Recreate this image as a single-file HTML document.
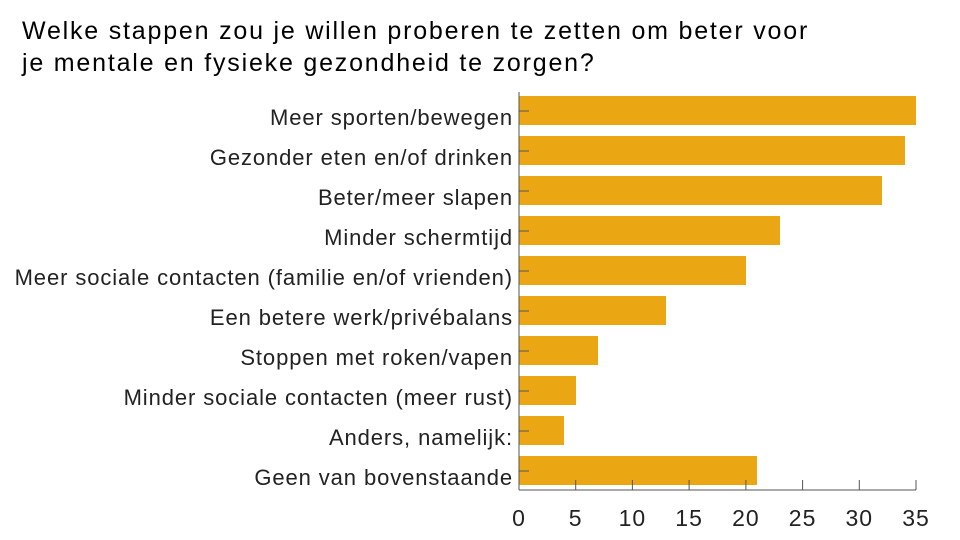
<!DOCTYPE html>
<html><head><meta charset="utf-8"><style>
body{margin:0;background:#fff;}
svg{display:block;font-family:"Liberation Sans",sans-serif;}
</style></head><body>
<svg width="960" height="540" viewBox="0 0 960 540">
<g font-size="25" fill="#000" letter-spacing="1.8">
<text x="22" y="39">Welke stappen zou je willen proberen te zetten om beter voor</text>
<text x="22" y="71">je mentale en fysieke gezondheid te zorgen?</text>
</g>
<g fill="#eba613">
<rect x="519" y="96" width="397" height="29"/>
<rect x="519" y="136" width="386" height="29"/>
<rect x="519" y="176" width="363" height="29"/>
<rect x="519" y="216" width="261" height="29"/>
<rect x="519" y="256" width="227" height="29"/>
<rect x="519" y="296" width="147" height="29"/>
<rect x="519" y="336" width="79" height="29"/>
<rect x="519" y="376" width="57" height="29"/>
<rect x="519" y="416" width="45" height="29"/>
<rect x="519" y="456" width="238" height="29"/>
</g>
<g stroke="#555" stroke-width="1">
<line x1="519" y1="92" x2="519" y2="490"/>
<line x1="519" y1="490" x2="916" y2="490"/>
<line x1="519" y1="111" x2="529" y2="111"/><line x1="519" y1="151" x2="529" y2="151"/>
<line x1="519" y1="191" x2="529" y2="191"/><line x1="519" y1="231" x2="529" y2="231"/>
<line x1="519" y1="271" x2="529" y2="271"/><line x1="519" y1="311" x2="529" y2="311"/>
<line x1="519" y1="351" x2="529" y2="351"/><line x1="519" y1="391" x2="529" y2="391"/>
<line x1="519" y1="431" x2="529" y2="431"/><line x1="519" y1="471" x2="529" y2="471"/>
<line x1="575.7" y1="480" x2="575.7" y2="490"/><line x1="632.4" y1="480" x2="632.4" y2="490"/>
<line x1="689.1" y1="480" x2="689.1" y2="490"/><line x1="745.9" y1="480" x2="745.9" y2="490"/>
<line x1="802.6" y1="480" x2="802.6" y2="490"/><line x1="859.3" y1="480" x2="859.3" y2="490"/>
<line x1="916" y1="480" x2="916" y2="490"/>
</g>
<g font-size="22" fill="#222" text-anchor="end" letter-spacing="0.9">
<text x="513" y="125">Meer sporten/bewegen</text>
<text x="513" y="165">Gezonder eten en/of drinken</text>
<text x="513" y="205">Beter/meer slapen</text>
<text x="513" y="245">Minder schermtijd</text>
<text x="513" y="285">Meer sociale contacten (familie en/of vrienden)</text>
<text x="513" y="325">Een betere werk/privébalans</text>
<text x="513" y="365">Stoppen met roken/vapen</text>
<text x="513" y="405">Minder sociale contacten (meer rust)</text>
<text x="513" y="445">Anders, namelijk:</text>
<text x="513" y="485">Geen van bovenstaande</text>
</g>
<g font-size="23" fill="#222" text-anchor="middle" letter-spacing="1">
<text x="519" y="526">0</text><text x="575.7" y="526">5</text><text x="632.4" y="526">10</text>
<text x="689.1" y="526">15</text><text x="745.9" y="526">20</text><text x="802.6" y="526">25</text>
<text x="859.3" y="526">30</text><text x="916" y="526">35</text>
</g>
</svg>
</body></html>
